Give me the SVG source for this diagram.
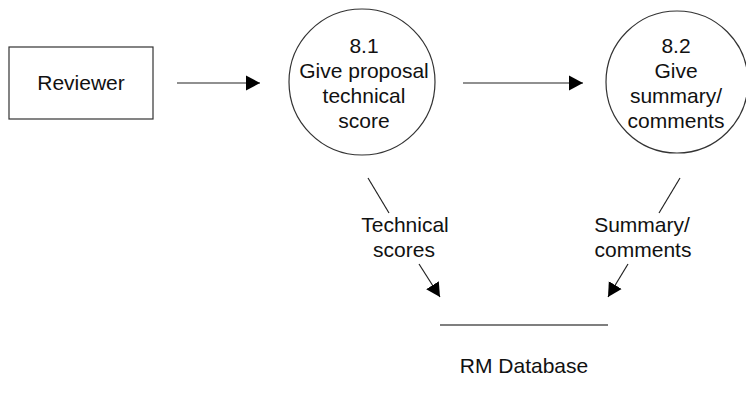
<svg xmlns="http://www.w3.org/2000/svg" width="746" height="408" viewBox="0 0 746 408">
<defs>
<marker id="ah" markerUnits="userSpaceOnUse" markerWidth="16" markerHeight="16" viewBox="0 0 16 16" refX="14" refY="8" orient="auto">
<path d="M0,0.5 L14,8 L0,15.5 Z" fill="#000"/>
</marker>
<style>
.t{font-family:"Liberation Sans",Arial,sans-serif;font-size:21px;fill:#111;text-anchor:middle}
.shape{fill:#fff;stroke:#333;stroke-width:1.2}
.c{stroke:#222;stroke-width:1.2;fill:none}
.store{stroke:#555;stroke-width:1.5}
</style>
</defs>
<rect width="746" height="408" fill="#fff"/>
<g id="reviewer">
<rect class="shape" x="9" y="47" width="144" height="72"/>
<text class="t" x="81" y="90">Reviewer</text>
</g>
<g id="p81">
<circle class="shape" cx="362" cy="82" r="73"/>
<text class="t" x="364" y="53">8.1</text>
<text class="t" x="364" y="78">Give proposal</text>
<text class="t" x="364" y="103">technical</text>
<text class="t" x="364" y="128">score</text>
</g>
<g id="p82">
<circle class="shape" cx="677" cy="82" r="71"/>
<text class="t" x="676" y="53">8.2</text>
<text class="t" x="676" y="78">Give</text>
<text class="t" x="676" y="103">summary/</text>
<text class="t" x="676" y="128">comments</text>
</g>
<g id="rmdb">
<line class="store" x1="440" y1="325" x2="608" y2="325"/>
<text class="t" x="524" y="373">RM Database</text>
</g>
<g id="connectors">
<line class="c" x1="177" y1="83" x2="260" y2="83" marker-end="url(#ah)"/>
<line class="c" x1="463" y1="83" x2="583" y2="83" marker-end="url(#ah)"/>
<line class="c" x1="368" y1="178" x2="389" y2="213"/>
<line class="c" x1="419" y1="264" x2="440" y2="297" marker-end="url(#ah)"/>
<text class="t" x="405" y="232">Technical</text>
<text class="t" x="404" y="257">scores</text>
<line class="c" x1="680" y1="178" x2="659" y2="213"/>
<line class="c" x1="628" y1="264" x2="608" y2="297" marker-end="url(#ah)"/>
<text class="t" x="642" y="232">Summary/</text>
<text class="t" x="643" y="257">comments</text>
</g>
</svg>
